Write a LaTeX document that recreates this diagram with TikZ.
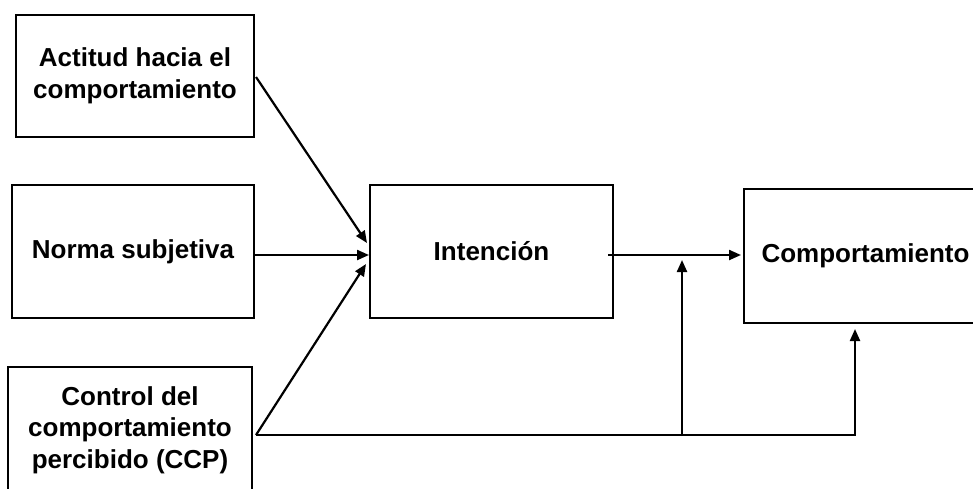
\documentclass[tikz,border=0pt]{standalone}
\usepackage{fontspec}
\setmainfont{Liberation Sans}
\usetikzlibrary{arrows.meta,calc}
\begin{document}
\begin{tikzpicture}[x=1pt,y=-1pt,
  box/.style={draw,line width=2pt,align=center,inner sep=0pt,
    font=\fontsize{26}{31.5}\selectfont\bfseries},
  conn/.style={line width=2.2pt,-{Triangle[length=12pt,width=10pt]}},
  plain/.style={line width=2.2pt}]
\useasboundingbox (0,0) rectangle (973,488);
\clip (0,0) rectangle (973,488);
\node[box,minimum width=238pt,minimum height=122pt] (a) at (135,76) {Actitud hacia el\\comportamiento};
\node[box,minimum width=242pt,minimum height=133pt] (n) at (133,251.5) {Norma subjetiva};
\node[box,minimum width=244pt,minimum height=126pt] (c) at (130,430) {Control del\\comportamiento\\percibido (CCP)};
\node[box,minimum width=243pt,minimum height=133pt] (i) at (491.5,251.5) {Intención};
\node[box,minimum width=244pt,minimum height=134pt,text width=244pt] (b) at (866,256) {\hspace*{-1pt}Comportamiento};
\coordinate (cs) at ($(c.east)+(3,5)$);
\coordinate (j) at (682,436);
\coordinate (k) at (682,260);
\draw[conn] ($(a.east)+(1,1)$) -- ($(i.west)+(-2,-8.5)$);
\draw[conn] ($(n.east)+(0,3.5)$) -- ($(i.west)+(0,3.5)$);
\draw[conn] (cs) -- ($(i.west)+(-3,12.5)$);
\draw[conn] ($(i.east)+(-6,3.5)$) -- ($(b.west)+(-2,-1)$);
\draw[conn] (cs) -| ($(b.south)+(-11,5)$);
\draw[conn] (j) -- (k);
\end{tikzpicture}
\end{document}
